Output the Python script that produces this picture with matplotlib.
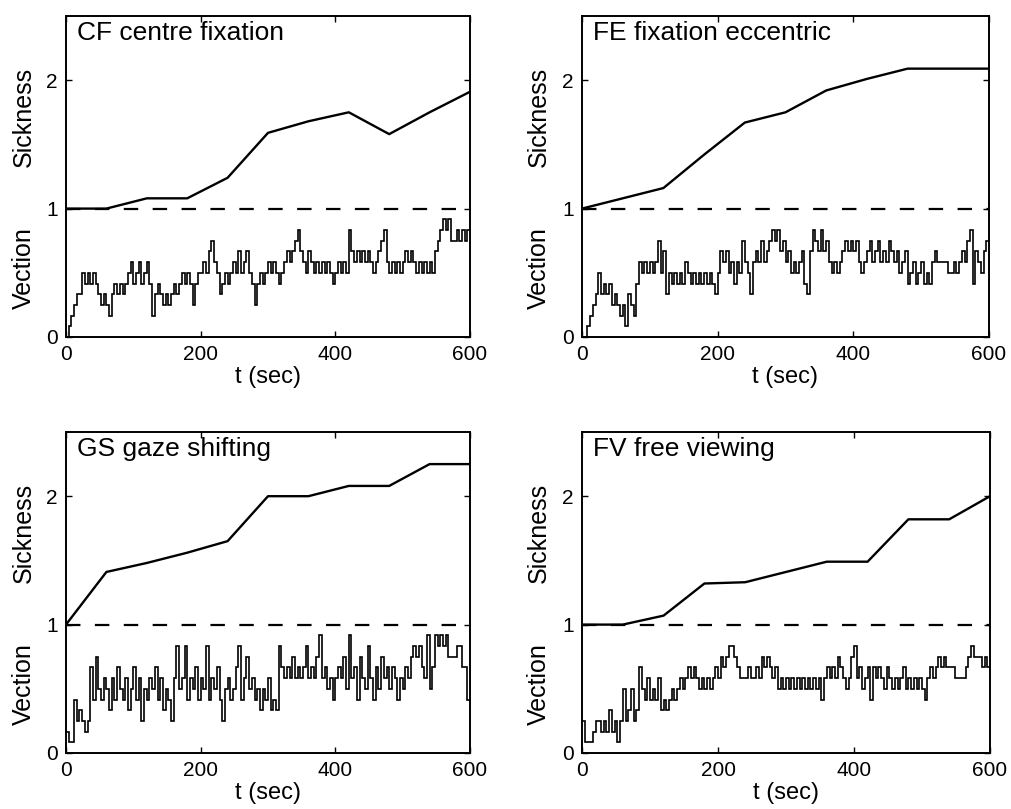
import numpy as np
import matplotlib
matplotlib.use("Agg")
import matplotlib.pyplot as plt

plt.rcParams['font.family'] = ['Liberation Sans', 'DejaVu Sans']

# Session time axis (s)
sickness_t = [0, 60, 120, 180, 240, 300, 360, 420, 480, 540, 600]
vection_dt = 4          # vection sampling step (s)
vection_scale = 12      # vection reported in twelfths

panel_titles = ["CF centre fixation", "FE fixation eccentric",
                "GS gaze shifting", "FV free viewing"]

# Sickness ratings at one-minute intervals
cf_sickness = [1.00, 1.00, 1.08, 1.08, 1.24, 1.59, 1.68, 1.75, 1.58, 1.75, 1.91]
fe_sickness = [1.00, 1.08, 1.16, 1.42, 1.67, 1.75, 1.92, 2.01, 2.09, 2.09, 2.09]
gs_sickness = [1.00, 1.41, 1.48, 1.56, 1.65, 2.00, 2.00, 2.08, 2.08, 2.25, 2.25]
fv_sickness = [1.00, 1.00, 1.07, 1.32, 1.33, 1.41, 1.49, 1.49, 1.82, 1.82, 2.00]

# Vection level (twelfths), one row per minute, 4 s steps
cf_vection = [
    0, 1, 2, 3, 4, 4, 6, 5, 6, 5, 6, 5, 4, 3, 4,
    3, 2, 4, 5, 4, 5, 4, 5, 6, 7, 5, 6, 7, 5, 6,
    7, 5, 2, 4, 5, 4, 3, 4, 3, 4, 5, 4, 5, 6, 5,
    6, 5, 3, 5, 6, 6, 7, 6, 8, 9, 7, 6, 4, 5, 6,
    5, 6, 7, 6, 8, 6, 7, 8, 6, 5, 3, 5, 6, 5, 6,
    7, 6, 7, 6, 5, 6, 7, 8, 7, 8, 9, 10, 8, 7, 6,
    8, 7, 6, 7, 6, 7, 6, 7, 6, 5, 6, 7, 6, 7, 6,
    10, 8, 7, 8, 7, 8, 7, 8, 7, 6, 7, 8, 9, 10, 7,
    6, 7, 6, 7, 6, 7, 8, 7, 8, 7, 6, 7, 6, 7, 6,
    7, 6, 8, 9, 10, 11, 10, 11, 9, 9, 10, 9, 10, 9, 10,
]
fe_vection = [
    0, 0, 1, 2, 3, 4, 6, 4, 5, 4, 5, 3, 4, 3, 2,
    3, 1, 4, 3, 2, 5, 7, 6, 7, 6, 7, 6, 7, 9, 6,
    8, 4, 6, 5, 6, 5, 6, 5, 7, 6, 5, 6, 5, 6, 5,
    6, 5, 6, 5, 4, 6, 8, 7, 8, 6, 7, 5, 7, 6, 9,
    7, 6, 4, 7, 8, 7, 9, 7, 8, 9, 10, 9, 10, 8, 9,
    7, 8, 6, 7, 6, 7, 8, 5, 4, 8, 10, 9, 8, 10, 8,
    9, 7, 6, 7, 6, 7, 8, 9, 8, 9, 8, 9, 7, 6, 7,
    8, 9, 7, 8, 9, 7, 8, 7, 9, 8, 7, 8, 6, 7, 8,
    5, 6, 7, 5, 6, 7, 5, 6, 5, 7, 8, 7, 7, 7, 7,
    6, 6, 7, 6, 7, 8, 7, 9, 10, 5, 8, 7, 6, 8, 9,
]
gs_vection = [
    2, 1, 1, 5, 3, 4, 3, 2, 3, 8, 5, 9, 6, 5, 7,
    6, 4, 7, 5, 8, 6, 5, 7, 4, 6, 8, 5, 7, 3, 6,
    5, 7, 6, 8, 5, 7, 4, 6, 5, 3, 7, 10, 6, 7, 10,
    5, 7, 6, 8, 5, 7, 6, 10, 5, 7, 6, 8, 5, 3, 6,
    7, 5, 6, 8, 10, 5, 7, 9, 6, 7, 5, 6, 4, 6, 5,
    7, 4, 5, 4, 10, 8, 7, 8, 7, 9, 7, 8, 7, 8, 10,
    7, 8, 7, 9, 11, 7, 8, 6, 7, 5, 7, 8, 7, 9, 6,
    11, 7, 8, 5, 9, 7, 6, 10, 7, 5, 8, 6, 9, 7, 8,
    6, 8, 7, 5, 7, 6, 8, 7, 9, 10, 9, 10, 8, 7, 11,
    6, 8, 11, 10, 11, 10, 11, 9, 9, 9, 10, 10, 8, 8, 5,
]
fv_vection = [
    3, 1, 1, 1, 2, 3, 3, 2, 3, 2, 4, 2, 3, 1, 3,
    6, 3, 4, 6, 3, 4, 8, 6, 5, 7, 5, 6, 5, 7, 4,
    5, 4, 5, 6, 5, 6, 7, 6, 7, 8, 7, 8, 7, 6, 7,
    6, 7, 6, 7, 8, 7, 9, 8, 9, 10, 10, 9, 8, 7, 7,
    7, 8, 7, 7, 8, 7, 9, 8, 9, 8, 7, 8, 6, 7, 6,
    7, 6, 7, 6, 7, 6, 7, 6, 7, 6, 7, 6, 7, 5, 7,
    8, 7, 8, 7, 9, 8, 7, 6, 7, 9, 10, 7, 8, 6, 7,
    8, 5, 8, 7, 8, 7, 6, 8, 7, 6, 7, 6, 7, 8, 6,
    7, 6, 7, 6, 7, 6, 5, 7, 8, 7, 8, 9, 8, 9, 8,
    8, 8, 7, 7, 7, 7, 8, 9, 10, 9, 9, 9, 8, 9, 8,
]

sickness_sets = [cf_sickness, fe_sickness, gs_sickness, fv_sickness]
vection_sets = [cf_vection, fe_vection, gs_vection, fv_vection]

W, H = 1011, 809
fig = plt.figure(figsize=(W / 100, H / 100), dpi=100)

# axes boxes in pixels: (left, top, right, bottom)
boxes = [(66, 16, 470, 337), (582, 16, 989, 337),
         (66, 432, 470, 753), (582, 432, 990, 753)]

for title, sick, vec, (l, t, r, b) in zip(panel_titles, sickness_sets,
                                          vection_sets, boxes):
    ax = fig.add_axes([l / W, 1 - b / H, (r - l) / W, (b - t) / H])
    edges = np.arange(len(vec) + 1) * vection_dt
    ax.stairs(np.array(vec) / vection_scale, edges, baseline=None,
              color='black', lw=1.2)
    ax.plot([0, 600], [1, 1], color='black', lw=1.6, dashes=(6.5, 6.5))
    ax.plot(sickness_t, sick, color='black', lw=1.7)

    ax.set_xlim(0, 600)
    ax.set_ylim(0, 2.5)
    ax.set_xticks([0, 200, 400, 600])
    ax.set_yticks([0, 1, 2])
    ax.tick_params(direction='in', length=4, width=1, labelsize=15,
                   top=True, right=True, pad=6)
    for s in ax.spines.values():
        s.set_linewidth(1.4)
    ax.set_xlabel("t (sec)", fontsize=17, labelpad=1)
    ax.text(0.027, 0.985, title, transform=ax.transAxes, ha='left',
            va='top', fontsize=19)
    ax.text(-0.105, 1.71, "Sickness", transform=ax.get_yaxis_transform(),
            rotation=90, ha='center', va='center', fontsize=18)
    ax.text(-0.105, 0.54, "Vection", transform=ax.get_yaxis_transform(),
            rotation=90, ha='center', va='center', fontsize=18)

fig.savefig("out.png", dpi=100)
